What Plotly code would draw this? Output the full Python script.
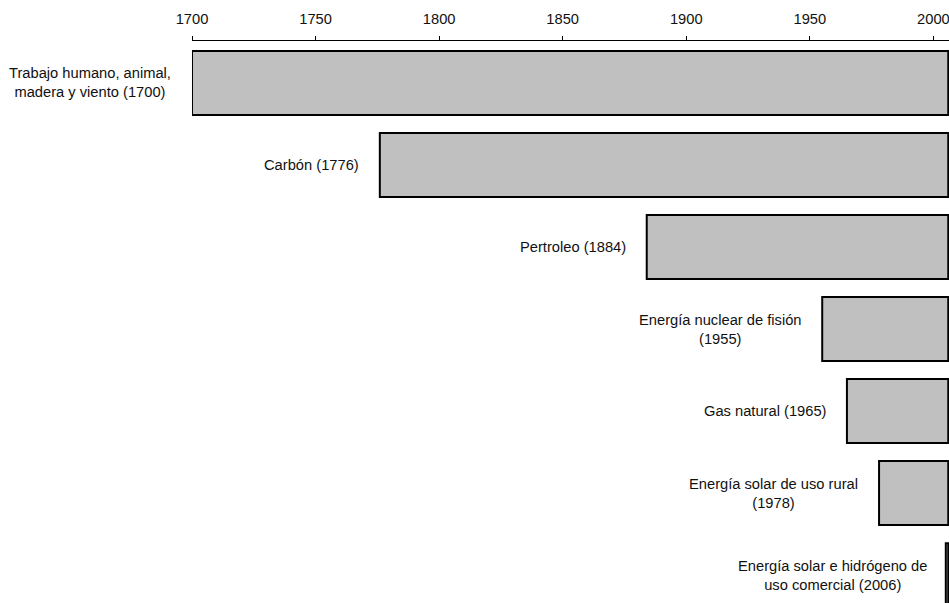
import plotly.graph_objects as go

# Energy sources and the year each one starts
fuentes = [
    "Trabajo humano, animal,<br>madera y viento (1700)",
    "Carbón (1776)",
    "Pertroleo (1884)",
    "Energía nuclear de fisión<br>(1955)",
    "Gas natural (1965)",
    "Energía solar de uso rural<br>(1978)",
    "Energía solar e hidrógeno de<br>uso comercial (2006)",
]
inicio = [1700, 1776, 1884, 1955, 1965, 1978, 2006]
fin = 2006
ticks = [1700, 1750, 1800, 1850, 1900, 1950, 2000]

cats = list(range(len(fuentes)))
# a source starting in the final year still needs a visible sliver
base = [min(a, fin - 1) for a in inicio]
largo = [fin - b for b in base]

fig = go.Figure(
    go.Bar(
        y=cats,
        x=largo,
        base=base,
        orientation="h",
        width=0.78,
        marker=dict(
            color="#c0c0c0",
            line=dict(color="#000000", width=2),
        ),
        hoverinfo="skip",
    )
)

fnt = dict(size=14.7, color="#111111", family="Liberation Sans, Arial, sans-serif")

for i, (label, a) in enumerate(zip(fuentes, inicio)):
    fig.add_annotation(
        x=a, y=i, xref="x", yref="y",
        text=label, showarrow=False,
        xanchor="right", yanchor="middle", align="center",
        xshift=-19,
        font=fnt,
    )

fig.update_layout(
    width=949,
    height=603,
    margin=dict(l=192, r=0, t=41, b=0),
    plot_bgcolor="white",
    paper_bgcolor="white",
    showlegend=False,
    font=fnt,
    xaxis=dict(
        side="top",
        range=[1700, 2006.3],
        tickvals=ticks,
        ticks="outside",
        ticklen=4,
        tickcolor="#000000",
        showline=True,
        linecolor="#000000",
        linewidth=1,
        showgrid=False,
        zeroline=False,
        automargin=False,
        ticklabeloverflow="allow",
        ticklabelstandoff=6,
    ),
    yaxis=dict(
        range=[6.34, -0.512],
        showticklabels=False,
        showgrid=False,
        zeroline=False,
        showline=False,
        ticks="",
    ),
)

fig.write_html(
    "out.html",
    config={"displayModeBar": False},
    post_script="document.body.style.margin='0';",
)
